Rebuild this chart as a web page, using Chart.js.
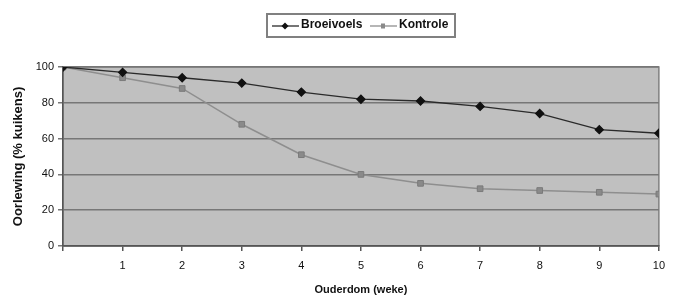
<!DOCTYPE html>
<html>
<head>
<meta charset="utf-8">
<script src="https://cdn.jsdelivr.net/npm/chart.js@4/dist/chart.umd.min.js"></script>
<style>
  body { margin: 0; background: #fff; }
  #wrap { width: 673px; height: 300px; position: relative; }
</style>
</head>
<body>
<div id="wrap"><canvas id="survivalChart"></canvas></div>
<script>
// Data
const weeks = [0, 1, 2, 3, 4, 5, 6, 7, 8, 9, 10];
const broeivoels = [100, 97, 94, 91, 86, 82, 81, 78, 74, 65, 63];
const kontrole = [100, 94, 88, 68, 51, 40, 35, 32, 31, 30, 29];
const seriesNames = ['Broeivoels', 'Kontrole'];

const FONT = '"Liberation Sans", Arial, sans-serif';

// Grey plot area with a border
const plotBg = {
    id: 'plotBg',
    beforeDraw(chart) {
        const { ctx, chartArea: a } = chart;
        ctx.save();
        ctx.fillStyle = '#c0c0c0';
        ctx.fillRect(a.left, a.top, a.right - a.left, a.bottom - a.top);
        ctx.strokeStyle = '#808080';
        ctx.lineWidth = 1.5;
        ctx.strokeRect(a.left, a.top, a.right - a.left, a.bottom - a.top);
        ctx.restore();
    }
};

// Boxed legend with line + marker symbols
const boxLegend = {
    id: 'boxLegend',
    afterDraw(chart) {
        const ctx = chart.ctx;
        ctx.save();
        ctx.fillStyle = '#fff';
        ctx.fillRect(267, 14, 188, 23);
        ctx.strokeStyle = '#808080';
        ctx.lineWidth = 2;
        ctx.strokeRect(267, 14, 188, 23);
        ctx.font = 'bold 12px ' + FONT;
        ctx.textBaseline = 'middle';
        const items = [
            { x: 272, ds: chart.data.datasets[0] },
            { x: 370, ds: chart.data.datasets[1] }
        ];
        items.forEach(it => {
            const y = 26;
            ctx.strokeStyle = it.ds.borderColor;
            ctx.lineWidth = 1.3;
            ctx.beginPath();
            ctx.moveTo(it.x, y);
            ctx.lineTo(it.x + 27, y);
            ctx.stroke();
            ctx.fillStyle = it.ds.pointBackgroundColor;
            const cx = it.x + 13;
            if (it.ds.pointStyle === 'rectRot') {
                ctx.beginPath();
                ctx.moveTo(cx, y - 3.5);
                ctx.lineTo(cx + 3.5, y);
                ctx.lineTo(cx, y + 3.5);
                ctx.lineTo(cx - 3.5, y);
                ctx.closePath();
                ctx.fill();
            } else {
                ctx.fillRect(cx - 2, y - 2.5, 4, 5);
            }
            ctx.fillStyle = '#111';
            ctx.fillText(it.ds.label, it.x + 29, y - 1);
        });
        ctx.restore();
    }
};

const ctx = document.getElementById('survivalChart').getContext('2d');
new Chart(ctx, {
    type: 'line',
    data: {
        datasets: [
            {
                label: seriesNames[0],
                data: weeks.map((w, i) => ({ x: w, y: broeivoels[i] })),
                borderColor: '#2a2a2a',
                borderWidth: 1.3,
                pointStyle: 'rectRot',
                pointRadius: 4,
                pointBackgroundColor: '#111',
                pointBorderColor: '#111',
                tension: 0
            },
            {
                label: seriesNames[1],
                data: weeks.map((w, i) => ({ x: w, y: kontrole[i] })),
                borderColor: '#8e8e8e',
                borderWidth: 1.5,
                pointStyle: 'rect',
                pointRadius: 4,
                pointBackgroundColor: '#8a8a8a',
                pointBorderColor: '#7a7a7a',
                pointBorderWidth: 1,
                tension: 0
            }
        ]
    },
    options: {
        responsive: true,
        maintainAspectRatio: false,
        animation: false,
        layout: { padding: { top: 67, right: 14, left: 0, bottom: 0 }, autoPadding: false },
        plugins: { legend: { display: false }, tooltip: { enabled: false } },
        scales: {
            x: {
                type: 'linear',
                min: 0,
                max: 10,
                afterFit: s => { s.height = 54; },
                ticks: {
                    stepSize: 1,
                    padding: 8,
                    color: '#111',
                    font: { family: FONT, size: 11 },
                    callback: v => (v === 0 ? '' : v)
                },
                grid: { drawOnChartArea: false, drawTicks: true, tickLength: 5, color: '#555', lineWidth: 1.5 },
                border: { color: '#555', width: 1.5 },
                title: {
                    display: true,
                    text: 'Ouderdom (weke)',
                    color: '#111',
                    font: { family: FONT, size: 11, weight: 'bold' },
                    padding: { top: 0, bottom: 3 }
                }
            },
            y: {
                min: 0,
                max: 100,
                afterFit: s => { s.width = 63; },
                ticks: {
                    stepSize: 20,
                    padding: 4,
                    color: '#111',
                    font: { family: FONT, size: 11 }
                },
                grid: { color: '#777', lineWidth: 1.5, tickLength: 5 },
                border: { color: '#555', width: 1.5 },
                title: {
                    display: true,
                    text: 'Oorlewing (% kuikens)',
                    color: '#111',
                    font: { family: FONT, size: 13, weight: 'bold' },
                    padding: { top: 11, bottom: 0 }
                }
            }
        }
    },
    plugins: [plotBg, boxLegend]
});
</script>
</body>
</html>
